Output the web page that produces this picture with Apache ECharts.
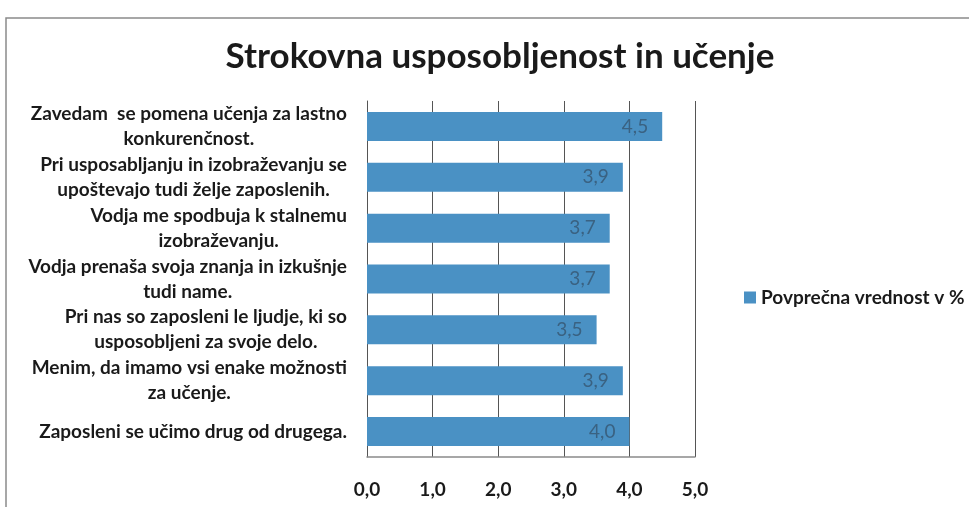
<!DOCTYPE html>
<html>
<head>
<meta charset="utf-8">
<script src="https://cdn.jsdelivr.net/npm/echarts@6/dist/echarts.min.js"></script>
<style>
  html, body { margin: 0; padding: 0; background: #fff; }
  #chart { width: 969px; height: 507px; }
</style>
</head>
<body>
<div id="chart"></div>
<script>
// categories top to bottom, as in the picture
const categories = [
  'Zavedam  se pomena učenja za lastno\nkonkurenčnost.',
  'Pri usposabljanju in izobraževanju se\nupoštevajo tudi želje zaposlenih.',
  'Vodja me spodbuja k stalnemu\nizobraževanju.',
  'Vodja prenaša svoja znanja in izkušnje\ntudi name.',
  'Pri nas so zaposleni le ljudje, ki so\nusposobljeni za svoje delo.',
  'Menim, da imamo vsi enake možnosti\nza učenje.',
  'Zaposleni se učimo drug od drugega.'
]
const values = [4.5, 3.9, 3.7, 3.7, 3.5, 3.9, 4.0]
const seriesName = 'Povprečna vrednost v %'
const title = 'Strokovna usposobljenost in učenje'

const fmt = v => v.toFixed(1).replace('.', ',')
const font = 'Lato, "Open Sans", sans-serif'

const chart = echarts.init(document.getElementById('chart'), null, { renderer: 'canvas' })

chart.setOption({
  backgroundColor: '#fff',
  animation: false,
  graphic: [{
    type: 'rect',
    shape: { x: 6, y: 18, width: 1000, height: 520 },
    style: { fill: 'none', stroke: '#8a8a8a', lineWidth: 1.5 },
    silent: true
  }],
  title: {
    text: title,
    left: 495,
    top: 34,
    textAlign: 'center',
    textStyle: { fontFamily: font, fontWeight: 'bold', fontSize: 35, color: '#1a1a1a' }
  },
  legend: {
    left: 739,
    top: 283,
    itemWidth: 12,
    itemHeight: 12,
    itemGap: 7,
    icon: 'rect',
    textStyle: { fontFamily: font, fontWeight: 'bold', fontSize: 19, color: '#1a1a1a' },
    data: [seriesName]
  },
  grid: { left: 367, right: 274, top: 101, bottom: 50 },
  xAxis: {
    type: 'value',
    min: 0,
    max: 5,
    interval: 1,
    axisLine: { show: true, lineStyle: { color: '#8a8a8a', width: 1.5 } },
    axisTick: { show: false },
    splitLine: { show: true, lineStyle: { color: '#555', width: 1 } },
    axisLabel: {
      margin: 23,
      fontFamily: font,
      fontWeight: 'bold',
      fontSize: 19,
      color: '#1a1a1a',
      formatter: v => fmt(v)
    }
  },
  yAxis: {
    type: 'category',
    inverse: true,
    data: categories,
    axisLine: { show: true, lineStyle: { color: '#555', width: 1 } },
    axisTick: { show: false },
    axisLabel: {
      margin: 20,
      align: 'right',
      fontFamily: font,
      fontWeight: 'bold',
      fontSize: 19,
      color: '#1a1a1a',
      lineHeight: 25,
      formatter: s => s.split('\n').map(l => '{c|' + l + '}').join('\n'),
      rich: {
        c: { align: 'center', fontFamily: font, fontWeight: 'bold', fontSize: 19, color: '#1a1a1a', lineHeight: 25 }
      }
    }
  },
  series: [{
    name: seriesName,
    type: 'bar',
    data: values,
    barWidth: 29,
    itemStyle: { color: '#4a91c4' },
    label: {
      show: true,
      position: 'insideRight',
      distance: 14,
      fontFamily: font,
      fontSize: 19,
      color: '#3a6282',
      formatter: p => fmt(p.value)
    }
  }]
})
</script>
</body>
</html>
